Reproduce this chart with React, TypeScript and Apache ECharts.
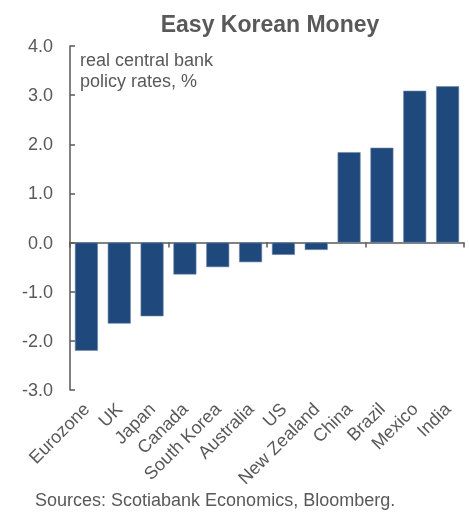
import React, { useEffect, useRef } from "react";
import * as echarts from "echarts";

const categories = ["Eurozone", "UK", "Japan", "Canada", "South Korea", "Australia", "US", "New Zealand", "China", "Brazil", "Mexico", "India"];
const rates = [-2.2, -1.65, -1.5, -0.65, -0.5, -0.4, -0.25, -0.15, 1.84, 1.93, 3.09, 3.18];
const yMin = -3;
const yMax = 4;
const yInterval = 1;

const FONT = "'Liberation Sans', Arial, sans-serif";
const GRAY = "#595959";

export default function App() {
  const ref = useRef<HTMLDivElement>(null);
  useEffect(() => {
    if (!ref.current) return;
    const chart = echarts.init(ref.current, undefined, { renderer: "svg" });
    chart.setOption({
      animation: false,
      textStyle: { fontFamily: FONT },
      title: {
        text: "Easy Korean Money",
        left: 265,
        textAlign: "center",
        top: 7,
        textStyle: { fontFamily: FONT, fontSize: 23, fontWeight: "bold", color: GRAY },
      },
      grid: { left: 70, right: 5, top: 46, bottom: 122, containLabel: false },
      xAxis: [
        {
          type: "category",
          data: categories,
          position: "bottom",
          axisLine: { show: false, onZero: false },
          axisTick: { show: false },
          axisLabel: { interval: 0, rotate: 45, fontSize: 18, color: GRAY, fontFamily: FONT, margin: 16 },
        },
        {
          type: "category",
          data: categories,
          position: "bottom",
          axisLine: { show: true, onZero: true, lineStyle: { color: GRAY, width: 1.5 } },
          axisTick: { show: true, inside: false, length: 5, lineStyle: { color: GRAY, width: 1.5 } },
          axisLabel: { show: false },
        },
      ],
      yAxis: {
        type: "value",
        min: yMin,
        max: yMax,
        interval: yInterval,
        axisLine: { show: true, lineStyle: { color: GRAY, width: 1.5 } },
        axisTick: { show: true, inside: true, length: 5, lineStyle: { color: GRAY, width: 1.5 } },
        splitLine: { show: false },
        axisLabel: {
          fontSize: 18,
          color: GRAY,
          fontFamily: FONT,
          margin: 17,
          formatter: (v: number) => v.toFixed(1),
        },
      },
      series: [
        {
          type: "bar",
          data: rates,
          xAxisIndex: 0,
          barCategoryGap: "30%",
          itemStyle: { color: "#1F497D", borderColor: "#6f87a8", borderWidth: 0.6 },
        },
      ],
      graphic: [
        {
          type: "text",
          left: 80,
          top: 49,
          style: {
            text: "real central bank\npolicy rates, %",
            font: `18px ${FONT}`,
            fill: GRAY,
            lineHeight: 21,
          },
        },
        {
          type: "text",
          left: 35,
          top: 491,
          style: {
            text: "Sources: Scotiabank Economics, Bloomberg.",
            font: `18px ${FONT}`,
            fill: GRAY,
          },
        },
      ],
    });
    return () => chart.dispose();
  }, []);
  return <div ref={ref} style={{ position: "fixed", left: 0, top: 0, width: 469, height: 512 }} />;
}
